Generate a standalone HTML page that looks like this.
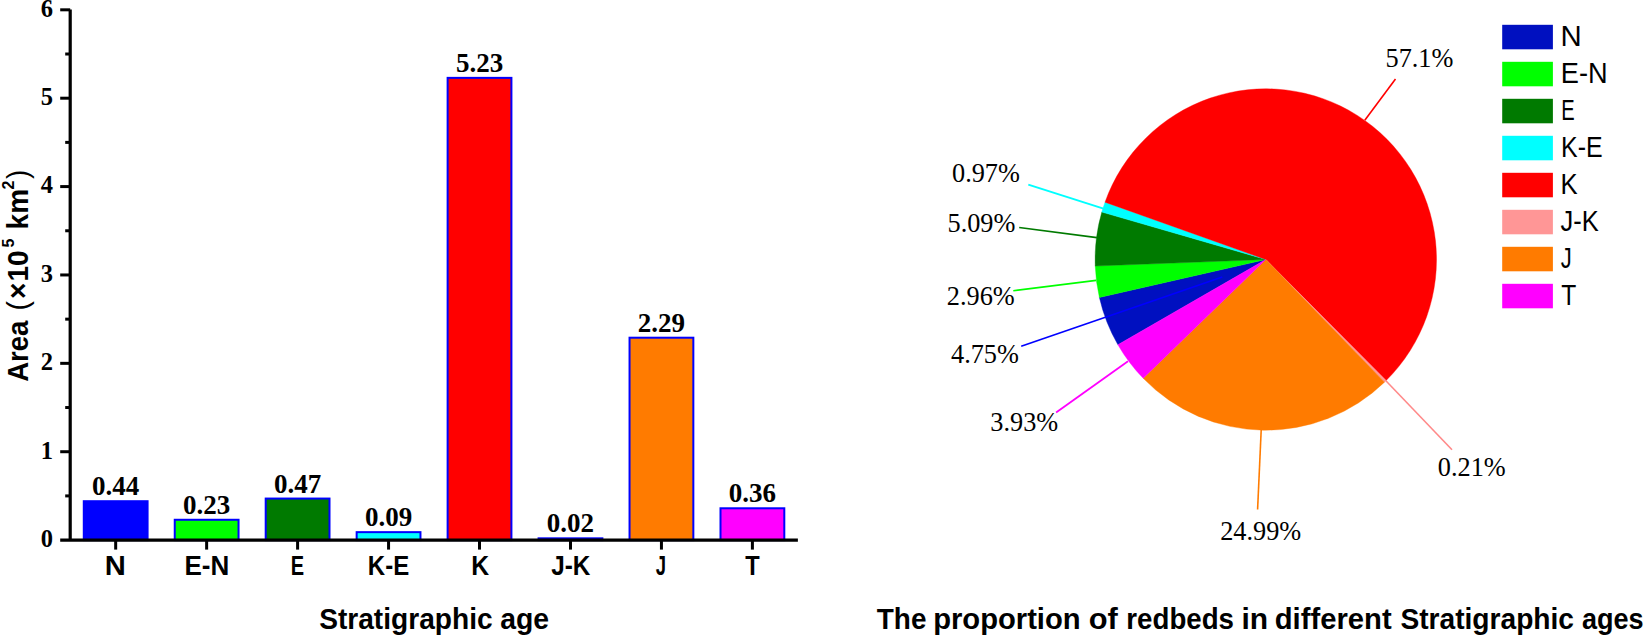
<!DOCTYPE html>
<html><head><meta charset="utf-8"><title>Redbeds area by stratigraphic age</title>
<style>html,body{margin:0;padding:0;background:#fff}svg{display:block}.tb{font-family:"Liberation Serif","Times New Roman",serif;font-weight:bold}.tr{font-family:"Liberation Serif","Times New Roman",serif}.sb{font-family:"Liberation Sans",Arial,sans-serif;font-weight:bold}.sr{font-family:"Liberation Sans",Arial,sans-serif}</style></head><body>
<svg width="1644" height="636" viewBox="0 0 1644 636">
<rect width="1644" height="636" fill="#fff"/>
<rect x="83.78" y="501.21" width="63.8" height="38.89" fill="#0000ff" stroke="#0000ff" stroke-width="2"/>
<text class="tb" x="115.68" y="495.21" font-size="27" text-anchor="middle">0.44</text>
<rect x="174.74" y="519.77" width="63.8" height="20.33" fill="#00ff00" stroke="#0000ff" stroke-width="2"/>
<text class="tb" x="206.64" y="513.77" font-size="27" text-anchor="middle">0.23</text>
<rect x="265.70" y="498.56" width="63.8" height="41.54" fill="#007a00" stroke="#0000ff" stroke-width="2"/>
<text class="tb" x="297.60" y="492.56" font-size="27" text-anchor="middle">0.47</text>
<rect x="356.66" y="532.15" width="63.8" height="7.95" fill="#00ffff" stroke="#0000ff" stroke-width="2"/>
<text class="tb" x="388.56" y="526.15" font-size="27" text-anchor="middle">0.09</text>
<rect x="447.62" y="77.87" width="63.8" height="462.23" fill="#ff0000" stroke="#0000ff" stroke-width="2"/>
<text class="tb" x="479.52" y="71.87" font-size="27" text-anchor="middle">5.23</text>
<rect x="538.58" y="538.33" width="63.8" height="1.77" fill="#ff9696" stroke="#0000ff" stroke-width="2"/>
<text class="tb" x="570.48" y="532.33" font-size="27" text-anchor="middle">0.02</text>
<rect x="629.54" y="337.71" width="63.8" height="202.39" fill="#ff7b00" stroke="#0000ff" stroke-width="2"/>
<text class="tb" x="661.44" y="331.71" font-size="27" text-anchor="middle">2.29</text>
<rect x="720.50" y="508.28" width="63.8" height="31.82" fill="#ff00ff" stroke="#0000ff" stroke-width="2"/>
<text class="tb" x="752.40" y="502.28" font-size="27" text-anchor="middle">0.36</text>
<g stroke="#000" stroke-width="3" fill="none">
<path d="M70.2 9.52V540.10" stroke-width="3.2"/>
<path d="M60.20 540.1H797.88" stroke-width="3.4"/>
<path d="M60.20 451.72H70.2"/>
<path d="M60.20 363.34H70.2"/>
<path d="M60.20 274.96H70.2"/>
<path d="M60.20 186.58H70.2"/>
<path d="M60.20 98.20H70.2"/>
<path d="M60.20 9.82H70.2"/>
<path d="M65.20 495.91H70.2"/>
<path d="M65.20 407.53H70.2"/>
<path d="M65.20 319.15H70.2"/>
<path d="M65.20 230.77H70.2"/>
<path d="M65.20 142.39H70.2"/>
<path d="M65.20 54.01H70.2"/>
<path d="M115.68 540.1V549.60"/>
<path d="M206.64 540.1V549.60"/>
<path d="M297.60 540.1V549.60"/>
<path d="M388.56 540.1V549.60"/>
<path d="M479.52 540.1V549.60"/>
<path d="M570.48 540.1V549.60"/>
<path d="M661.44 540.1V549.60"/>
<path d="M752.40 540.1V549.60"/>
</g>
<text class="tb" x="53.1" y="547.00" font-size="24.5" text-anchor="end">0</text>
<text class="tb" x="53.1" y="458.62" font-size="24.5" text-anchor="end">1</text>
<text class="tb" x="53.1" y="370.24" font-size="24.5" text-anchor="end">2</text>
<text class="tb" x="53.1" y="281.86" font-size="24.5" text-anchor="end">3</text>
<text class="tb" x="53.1" y="193.48" font-size="24.5" text-anchor="end">4</text>
<text class="tb" x="53.1" y="105.10" font-size="24.5" text-anchor="end">5</text>
<text class="tb" x="53.1" y="16.72" font-size="24.5" text-anchor="end">6</text>
<text class="sb" x="104.87" y="575.0" font-size="27" textLength="21.06" lengthAdjust="spacingAndGlyphs">N</text>
<text class="sb" x="184.39" y="575.0" font-size="27" textLength="44.78" lengthAdjust="spacingAndGlyphs">E-N</text>
<text class="sb" x="290.86" y="575.0" font-size="27" textLength="13.36" lengthAdjust="spacingAndGlyphs">E</text>
<text class="sb" x="367.86" y="575.0" font-size="27" textLength="41.33" lengthAdjust="spacingAndGlyphs">K-E</text>
<text class="sb" x="471.33" y="575.0" font-size="27" textLength="17.87" lengthAdjust="spacingAndGlyphs">K</text>
<text class="sb" x="551.17" y="575.0" font-size="27" textLength="39.18" lengthAdjust="spacingAndGlyphs">J-K</text>
<text class="sb" x="655.67" y="575.0" font-size="27" textLength="10.30" lengthAdjust="spacingAndGlyphs">J</text>
<text class="sb" x="745.29" y="575.0" font-size="27" textLength="14.42" lengthAdjust="spacingAndGlyphs">T</text>
<text class="sb" y="628.9" font-size="29.2"><tspan x="319.18" textLength="173.44" lengthAdjust="spacingAndGlyphs">Stratigraphic</tspan> <tspan x="500.17" textLength="48.86" lengthAdjust="spacingAndGlyphs">age</tspan></text>
<text class="sb" transform="translate(28.3 380.4) rotate(-90) scale(1 1.08)" font-size="28"><tspan x="-1.4" textLength="61.2" lengthAdjust="spacingAndGlyphs">Area</tspan> <tspan x="70" font-weight="normal">(</tspan><tspan x="81.5">×</tspan><tspan x="98.8">10</tspan><tspan x="133" dy="-13.4" font-size="16">5</tspan> <tspan x="151" dy="13.4">km</tspan><tspan x="190.8" dy="-13.4" font-size="16">2</tspan><tspan x="201.5" dy="13.4" font-weight="normal">)</tspan></text>
<path d="M1265.8 259.5L1117.90 344.72A170.7 170.7 0 0 1 1099.38 297.46Z" fill="#0010c0" stroke="#0010c0" stroke-width="0.4"/>
<path d="M1265.8 259.5L1099.38 297.46A170.7 170.7 0 0 1 1095.23 266.03Z" fill="#00ff00" stroke="#00ff00" stroke-width="0.4"/>
<path d="M1265.8 259.5L1095.23 266.03A170.7 170.7 0 0 1 1101.82 212.08Z" fill="#007a00" stroke="#007a00" stroke-width="0.4"/>
<path d="M1265.8 259.5L1101.82 212.08A170.7 170.7 0 0 1 1105.01 202.18Z" fill="#00ffff" stroke="#00ffff" stroke-width="0.4"/>
<path d="M1265.8 259.5L1105.01 202.18A170.7 170.7 0 1 1 1386.12 380.59Z" fill="#ff0000" stroke="#ff0000" stroke-width="0.4"/>
<path d="M1265.8 259.5L1386.12 380.59A170.7 170.7 0 0 1 1384.51 382.16Z" fill="#ff9696" stroke="#ff9696" stroke-width="0.4"/>
<path d="M1265.8 259.5L1384.51 382.16A170.7 170.7 0 0 1 1143.21 378.29Z" fill="#ff7b00" stroke="#ff7b00" stroke-width="0.4"/>
<path d="M1265.8 259.5L1143.21 378.29A170.7 170.7 0 0 1 1117.90 344.72Z" fill="#ff00ff" stroke="#ff00ff" stroke-width="0.4"/>
<path d="M1395.5 79L1364.8 120.2" stroke="#ff0000" stroke-width="1.6" fill="none"/>
<path d="M1028.3 184.6L1103.5 208.6" stroke="#00ffff" stroke-width="2" fill="none"/>
<path d="M1019.2 227.5L1096.9 237.6" stroke="#007a00" stroke-width="1.6" fill="none"/>
<path d="M1013.3 290.7L1096.2 280.4" stroke="#00ff00" stroke-width="1.6" fill="none"/>
<path d="M1021.2 346.3L1222.3 277.0" stroke="#0000ff" stroke-width="1.6" fill="none"/>
<path d="M1056.1 412.6L1128.0 361.2" stroke="#ff00ff" stroke-width="1.8" fill="none"/>
<path d="M1261.2 430.0L1257.6 509.5" stroke="#ff7b00" stroke-width="1.6" fill="none"/>
<path d="M1385.4 380.2L1452.0 449.8" stroke="#ff8a8a" stroke-width="1.6" fill="none"/>
<text class="tr" x="1385.5" y="66.7" font-size="26.3">57.1%</text>
<text class="tr" x="952.0" y="182.2" font-size="26.3">0.97%</text>
<text class="tr" x="947.5" y="232.0" font-size="26.3">5.09%</text>
<text class="tr" x="946.8" y="305.1" font-size="26.3">2.96%</text>
<text class="tr" x="951.0" y="363.3" font-size="26.3">4.75%</text>
<text class="tr" x="990.3" y="430.7" font-size="26.3">3.93%</text>
<text class="tr" x="1220.2" y="539.7" font-size="26.3">24.99%</text>
<text class="tr" x="1437.8" y="476.4" font-size="26.3">0.21%</text>
<rect x="1502.2" y="24.8" width="50.7" height="24.5" fill="#0010c0"/>
<text class="sr" x="1560.60" y="46.00" font-size="29" textLength="21.21" lengthAdjust="spacingAndGlyphs">N</text>
<rect x="1502.2" y="61.8" width="50.7" height="24.5" fill="#00ff00"/>
<text class="sr" x="1560.78" y="83.00" font-size="29" textLength="46.81" lengthAdjust="spacingAndGlyphs">E-N</text>
<rect x="1502.2" y="98.8" width="50.7" height="24.5" fill="#007a00"/>
<text class="sr" x="1561.33" y="120.00" font-size="29" textLength="13.44" lengthAdjust="spacingAndGlyphs">E</text>
<rect x="1502.2" y="135.8" width="50.7" height="24.5" fill="#00ffff"/>
<text class="sr" x="1561.03" y="157.00" font-size="29" textLength="41.52" lengthAdjust="spacingAndGlyphs">K-E</text>
<rect x="1502.2" y="172.8" width="50.7" height="24.5" fill="#ff0000"/>
<text class="sr" x="1560.41" y="194.00" font-size="29" textLength="17.11" lengthAdjust="spacingAndGlyphs">K</text>
<rect x="1502.2" y="209.8" width="50.7" height="24.5" fill="#ff9696"/>
<text class="sr" x="1560.58" y="231.00" font-size="29" textLength="38.24" lengthAdjust="spacingAndGlyphs">J-K</text>
<rect x="1502.2" y="246.8" width="50.7" height="24.5" fill="#ff7b00"/>
<text class="sr" x="1560.68" y="268.00" font-size="29" textLength="11.02" lengthAdjust="spacingAndGlyphs">J</text>
<rect x="1502.2" y="283.8" width="50.7" height="24.5" fill="#ff00ff"/>
<text class="sr" x="1561.14" y="305.00" font-size="29" textLength="15.04" lengthAdjust="spacingAndGlyphs">T</text>
<text class="sb" y="628.9" font-size="29.2"><tspan x="876.79" textLength="49.63" lengthAdjust="spacingAndGlyphs">The</tspan> <tspan x="933.15" textLength="147.49" lengthAdjust="spacingAndGlyphs">proportion</tspan> <tspan x="1088.73" textLength="29.11" lengthAdjust="spacingAndGlyphs">of</tspan> <tspan x="1126.35" textLength="107.67" lengthAdjust="spacingAndGlyphs">redbeds</tspan> <tspan x="1241.43" textLength="26.65" lengthAdjust="spacingAndGlyphs">in</tspan> <tspan x="1274.79" textLength="116.83" lengthAdjust="spacingAndGlyphs">different</tspan> <tspan x="1400.38" textLength="173.63" lengthAdjust="spacingAndGlyphs">Stratigraphic</tspan> <tspan x="1581.97" textLength="61.67" lengthAdjust="spacingAndGlyphs">ages</tspan></text>
</svg></body></html>
